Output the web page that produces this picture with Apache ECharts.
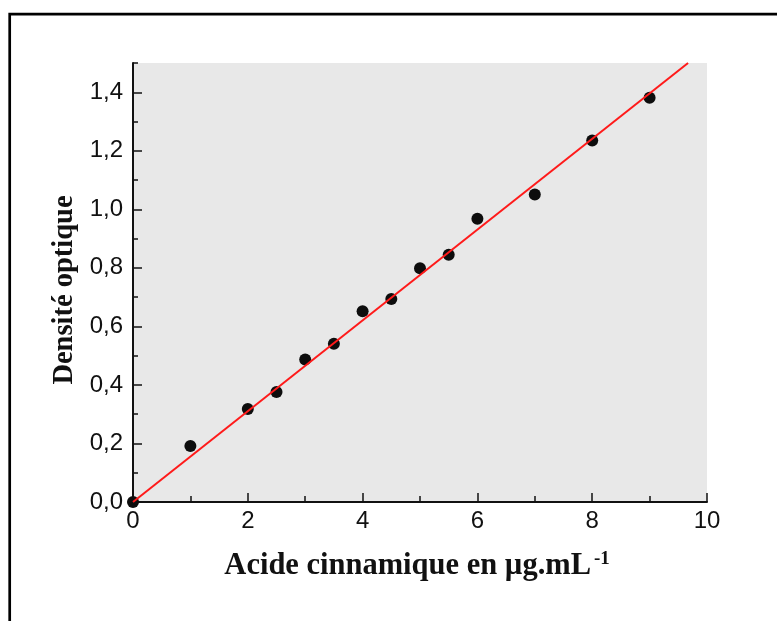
<!DOCTYPE html>
<html>
<head>
<meta charset="utf-8">
<title>Courbe d'étalonnage – acide cinnamique</title>
<script src="https://cdn.jsdelivr.net/npm/echarts@6/dist/echarts.min.js"></script>
<style>
  html, body { margin: 0; padding: 0; background: #fff; }
  #chart { width: 777px; height: 621px; }
</style>
</head>
<body>
<div id="chart"></div>
<script>
// Concentrations (µg/mL) and measured optical densities
const concentrations = [0, 1, 2, 2.5, 3, 3.5, 4, 4.5, 5, 5.5, 6, 7, 8, 9];
const densities = [0, 0.191, 0.318, 0.376, 0.487, 0.541, 0.652, 0.694, 0.799, 0.845, 0.968, 1.051, 1.235, 1.381];

// Linear regression line endpoints (through the origin)
const fitX = [0, 9.67];
const fitY = [0, 1.5];

// Axis ranges and labelled ticks
const yMajorTicks = [0, 0.2, 0.4, 0.6, 0.8, 1.0, 1.2, 1.4];
const xRange = [0, 10];
const yRange = [0, 1.5];

const chart = echarts.init(document.getElementById('chart'), null, { renderer: 'canvas' });

const pointData = concentrations.map((c, i) => [c, densities[i]]);
const fitData = fitX.map((x, i) => [x, fitY[i]]);

const axisColor = '#111';
const labelFont = {
  color: '#111',
  fontFamily: 'Liberation Sans, Arial, sans-serif',
  fontSize: 24
};

// Minor-tick companion axis: ticks only, no line or labels
function minorAxis(range, interval, len) {
  return {
    type: 'value',
    min: range[0], max: range[1], interval: interval,
    axisLine: { show: false, onZero: false },
    axisTick: { show: true, inside: true, length: len, lineStyle: { color: axisColor, width: 1.5 } },
    axisLabel: { show: false },
    splitLine: { show: false }
  };
}

chart.setOption({
  backgroundColor: '#ffffff',
  animation: false,
  grid: {
    left: 133, right: 70, top: 63, bottom: 119,
    show: true,
    backgroundColor: '#e8e8e8',
    borderWidth: 0
  },
  xAxis: [
    {
      type: 'value',
      position: 'bottom',
      min: xRange[0], max: xRange[1], interval: 2,
      axisLine: { show: true, onZero: false, lineStyle: { color: axisColor, width: 2 } },
      axisTick: { show: true, inside: true, length: 9, lineStyle: { color: axisColor, width: 1.5 } },
      splitLine: { show: false },
      axisLabel: Object.assign({ margin: 7, formatter: v => String(v) }, labelFont)
    },
    Object.assign(minorAxis(xRange, 1, 6), { position: 'bottom', offset: 0 })
  ],
  yAxis: [
    {
      type: 'value',
      position: 'left',
      min: yRange[0], max: yRange[1], interval: 0.2,
      axisLine: { show: true, onZero: false, lineStyle: { color: axisColor, width: 2 } },
      axisTick: { show: true, inside: true, length: 9, customValues: yMajorTicks, lineStyle: { color: axisColor, width: 1.5 } },
      splitLine: { show: false },
      axisLabel: Object.assign({
        margin: 10,
        customValues: yMajorTicks,
        formatter: v => v.toFixed(1).replace('.', ',')
      }, labelFont)
    },
    Object.assign(minorAxis(yRange, 0.1, 5), { position: 'left', offset: 0 })
  ],
  series: [
    {
      type: 'scatter',
      data: pointData,
      symbol: 'circle',
      symbolSize: 12,
      clip: false,
      itemStyle: { color: '#0d0d0d', opacity: 1 },
      z: 3
    },
    {
      type: 'line',
      data: fitData,
      symbol: 'none',
      clip: false,
      lineStyle: { color: '#ff1a1a', width: 2 },
      z: 4
    }
  ],
  graphic: [
    {
      type: 'rect',
      shape: { x: 9.7, y: 14.2, width: 900, height: 900 },
      style: { fill: 'none', stroke: '#000', lineWidth: 2.7 },
      silent: true,
      z: 0
    },
    {
      type: 'text',
      x: 65, y: 290,
      rotation: Math.PI / 2,
      style: {
        text: 'Densité optique',
        fontFamily: 'Liberation Serif, Times New Roman, serif',
        fontWeight: 'bold',
        fontSize: 28.5,
        fill: '#111',
        align: 'center',
        verticalAlign: 'middle'
      },
      silent: true
    },
    {
      type: 'text',
      x: 591, y: 566,
      style: {
        text: 'Acide cinnamique en µg.mL',
        fontFamily: 'Liberation Serif, Times New Roman, serif',
        fontWeight: 'bold',
        fontSize: 30.5,
        fill: '#111',
        align: 'right',
        verticalAlign: 'middle'
      },
      silent: true
    },
    {
      type: 'text',
      x: 594, y: 559,
      style: {
        text: '-1',
        fontFamily: 'Liberation Serif, Times New Roman, serif',
        fontWeight: 'bold',
        fontSize: 19,
        fill: '#111',
        align: 'left',
        verticalAlign: 'middle'
      },
      silent: true
    }
  ]
});
</script>
</body>
</html>
